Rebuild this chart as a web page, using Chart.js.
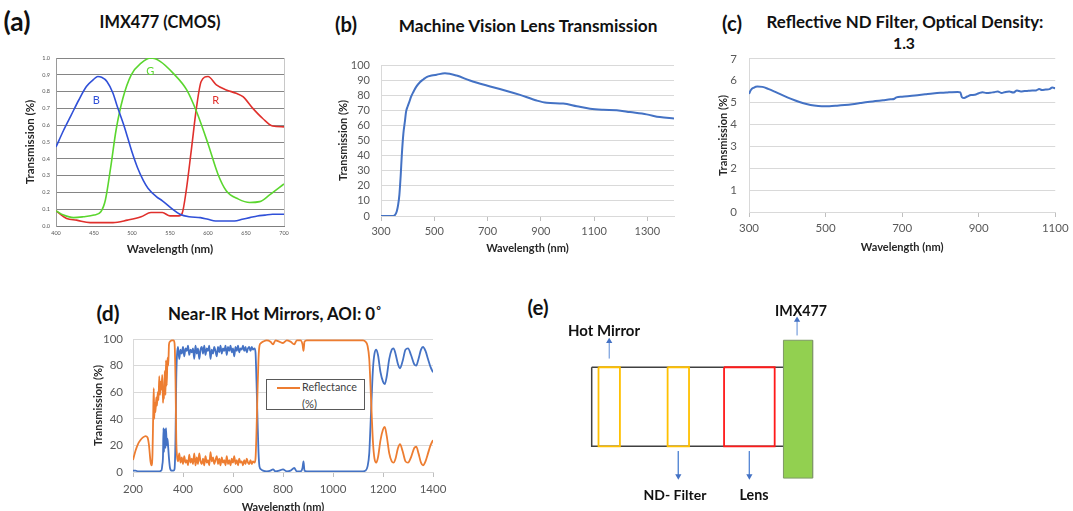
<!DOCTYPE html>
<html><head><meta charset="utf-8">
<script src="https://cdn.jsdelivr.net/npm/chart.js@4.4.1/dist/chart.umd.min.js"></script>
<style>
html,body{margin:0;padding:0;background:#fff;width:1073px;height:511px;overflow:hidden;font-family:Lato,'Open Sans',sans-serif;position:relative;}
canvas{position:absolute;}
.t{position:absolute;transform:translate(-50%,-50%);white-space:nowrap;font-weight:bold;color:#111;font-size:16px;line-height:1;}
.leg{position:absolute;left:266px;top:379px;width:97px;height:29px;border:1px solid #595959;background:#fff;}
.leg .ln{position:absolute;left:10px;top:7px;width:23px;height:2px;background:#ed7d31;}
.leg .tx{position:absolute;left:35px;font-size:12px;color:#404040;line-height:1;white-space:nowrap;}
</style></head><body>

<div class="t" data-w="27" style="left:17px;top:21px">(a)</div>
<div class="t" data-w="121" style="left:160px;top:22px">IMX477 (CMOS)</div>
<div class="t" data-w="22" style="left:346px;top:24px">(b)</div>
<div class="t" data-w="259" style="left:528px;top:26px">Machine Vision Lens Transmission</div>
<div class="t" data-w="20" style="left:732px;top:23px">(c)</div>
<div class="t" data-w="277" style="left:905px;top:22px">Reflective ND Filter, Optical Density:</div>
<div class="t" data-w="22" style="left:904px;top:43px">1.3</div>
<div class="t" data-w="23" style="left:108px;top:313px">(d)</div>
<div class="t" data-w="214" style="left:275px;top:314px">Near-IR Hot Mirrors, AOI: 0˚</div>
<div class="t" data-w="21" style="left:538px;top:307px">(e)</div>

<canvas id="ca" width="300" height="220" style="left:0px;top:40px"></canvas>
<canvas id="cb" width="400" height="220" style="left:300px;top:40px"></canvas>
<canvas id="cc" width="373" height="220" style="left:700px;top:40px"></canvas>
<canvas id="cd" width="400" height="200" style="left:60px;top:320px"></canvas>
<canvas id="ce" width="300" height="221" style="left:540px;top:290px"></canvas>

<div class="leg"><div class="ln"></div><div class="tx" data-w="55" style="top:2px">Reflectance</div><div class="tx" data-w="15" style="top:18px">(%)</div></div>

<div class="t" data-w="72" style="left:604px;top:330px;font-size:13px">Hot Mirror</div>
<div class="t" data-w="52" style="left:801px;top:311px;font-size:13px">IMX477</div>
<div class="t" data-w="63" style="left:675px;top:495px;font-size:13px">ND- Filter</div>
<div class="t" data-w="29" style="left:754px;top:495px;font-size:13px">Lens</div>

<script>
// ---------- DATA ----------
// (a) IMX477 spectral response
const aTicksX = [400,450,500,550,600,650,700];
const aTicksY = [0,0.1,0.2,0.3,0.4,0.5,0.6,0.7,0.8,0.9,1.0];
const aBlueWave = [400,410,420,430,440,450,455,460,467,475,480,490,500,507,515,521,532,540,552,563,575,590,600,610,620,635,645,655,665,675,685,700];
const aBlueVal  = [0.47,0.57,0.66,0.75,0.83,0.875,0.89,0.885,0.86,0.79,0.72,0.59,0.44,0.35,0.27,0.225,0.175,0.15,0.105,0.07,0.055,0.05,0.04,0.03,0.03,0.03,0.04,0.05,0.06,0.065,0.07,0.07];
const aGreenWave = [400,410,423,436,450,459,465,472,479,488,499,512,525,537,554,572,585,600,613,624,640,655,668,681,700];
const aGreenVal  = [0.09,0.065,0.05,0.055,0.065,0.085,0.155,0.35,0.57,0.76,0.9,0.97,1.0,0.98,0.91,0.81,0.68,0.49,0.31,0.21,0.16,0.14,0.145,0.185,0.25];
const aRedWave = [400,414,427,445,475,494,512,525,540,550,562,566,571,578,585,591,600,611,624,637,646,659,672,685,700];
const aRedVal  = [0.09,0.045,0.035,0.02,0.02,0.035,0.055,0.08,0.08,0.06,0.06,0.075,0.2,0.45,0.71,0.86,0.89,0.84,0.81,0.79,0.77,0.70,0.64,0.595,0.59];
const aLabelText = ['B','G','R'];
const aLabelWave = [453,524,610];
const aLabelVal  = [0.75,0.92,0.75];

// (b) Machine vision lens transmission
const bTicksX = [300,500,700,900,1100,1300];
const bTicksY = [0,10,20,30,40,50,60,70,80,90,100];
const bWave = [300,346,352,359,364,369,374,378,384,390,394,400,406,413,421,432,446,460,471,490,509,540,584,634,697,759,822,884,922,984,1035,1085,1135,1185,1235,1297,1347,1400];
const bVal  = [0,0,0.5,3,7,14,27,40,54.5,63,69,72.5,75.4,79,82,85.5,88.6,90.6,92,93,93.6,94.5,93,89.7,86.4,83.5,80.2,76.5,75,74.5,72.7,71,70.3,70,68.8,67.3,65.5,64.6];

// (c) Reflective ND filter OD 1.3
const cTicksX = [300,500,700,900,1100];
const cTicksY = [0,1,2,3,4,5,6,7];
const cWave = [300,305,312,322,335,350,370,390,410,430,450,470,490,510,530,550,570,590,610,630,650,670,680,685,700,720,740,760,780,800,815,830,845,852,856,862,870,880,890,900,910,920,930,940,950,960,970,980,990,1000,1010,1020,1030,1040,1050,1058,1065,1075,1085,1092,1100];
const cVal  = [5.40,5.58,5.68,5.74,5.72,5.63,5.48,5.32,5.17,5.04,4.94,4.87,4.84,4.84,4.86,4.89,4.93,4.98,5.03,5.07,5.11,5.15,5.18,5.24,5.27,5.30,5.34,5.38,5.42,5.45,5.46,5.48,5.49,5.47,5.25,5.21,5.28,5.35,5.36,5.43,5.48,5.44,5.45,5.48,5.51,5.44,5.49,5.51,5.46,5.55,5.51,5.53,5.54,5.55,5.56,5.62,5.58,5.60,5.62,5.69,5.66];

// (d) Near-IR hot mirror
const dTicksX = [200,400,600,800,1000,1200,1400];
const dTicksY = [0,20,40,60,80,100];
const dWave = [200,210,220,230,240,250,258,264,270,274,278,281,283,285,287,290,293,296,299,302,305,308,311,314,317,320,322,324,327,330,332,335,338,341,344,348,355,362,366,370,373,376,380,385,390,395,400,405,410,415,420,425,430,435,440,445,450,455,460,465,470,475,480,485,490,495,500,505,510,515,520,525,530,535,540,545,550,555,560,565,570,575,580,585,590,595,600,605,610,615,620,625,630,635,640,645,650,655,660,665,670,675,680,686,690,694,698,702,706,712,720,735,750,760,770,785,800,815,830,845,855,870,878,882,886,895,950,1000,1050,1100,1120,1130,1138,1145,1150,1155,1160,1166,1173,1180,1190,1200,1207,1215,1225,1235,1242,1250,1260,1268,1278,1290,1300,1312,1325,1333,1342,1352,1360,1370,1380,1390,1400];
const dReflect = [9,16,21,24,26,27,26,20,8,5,14,45,63,40,52,45,56,50,60,54,72,58,68,62,73,52,62,55,76,58,84,65,86,80,96,98,99,99,97,70,25,12,8,14,7,11,6,12,7,9,5,13,7,10,6,14,5,11,6,14,8,6,10,5,12,7,9,5,15,8,11,6,9,12,6,10,5,11,7,9,5,12,6,9,5,10,7,12,6,9,5,10,7,8,5,9,6,10,7,6,9,6,8,7,10,30,60,85,95,97,98,99,98,96,99,98,97,99,98,96,99,99,96,91,98,99,99,99,99,99,99,98,95,85,65,42,22,10,7,11,24,32,34,27,14,8,7,10,18,21,16,8,7,11,18,19,14,7,5,8,14,20,24];
const dTrans = [1,1,0.5,0.5,0.5,0.5,0.5,0.5,0.5,0.5,0.5,0.5,0.5,0.5,0.5,0.5,0.5,0.5,0.5,0.5,0.5,0.5,1,1,5,12,33,15,32,18,33,20,25,18,10,3,1,1,2,25,70,88,94,85,92,89,94,87,93,91,95,88,92,90,93,85,95,89,93,85,92,94,89,95,88,93,91,95,85,92,89,94,91,87,94,90,95,89,93,91,95,88,94,91,95,90,93,87,94,91,95,90,93,92,95,91,94,90,93,94,91,94,92,93,90,68,40,15,4,2,1,0.5,1,2,0.5,1,2,0.5,1,3,0.5,0.5,3,8,1,0.5,0.5,0.5,0.5,0.5,0.5,1,4,14,35,58,78,89,92,88,75,68,66,72,85,92,93,89,81,78,83,92,93,88,81,80,85,92,94,91,85,79,75];

// (e) optical train schematic (diagram units)
const partNames = ['Barrel','Hot Mirror','ND- Filter','Lens','IMX477'];
const partX0 = [49,56,127,185,246];
const partX1 = [247,78,149,237,276];
const partY0 = [76,76,76,76,48];
const partY1 = [158,158,158,158,191];
const arrowX    = [67,260,138,211];
const arrowFrom = [67,43,163,163];
const arrowTo   = [49,27,189,189];

// ---------- HELPERS ----------
Chart.defaults.font.family = "Lato, 'Open Sans', sans-serif";
Chart.defaults.color = '#595959';
Chart.defaults.animation = false;
Chart.defaults.events = [];
Chart.defaults.plugins.legend.display = false;
Chart.defaults.plugins.tooltip.enabled = false;

function xy(xs, ys){ return xs.map((x,i)=>({x:x, y:ys[i]})); }
function lineDs(xs, ys, color, w){
  return {data: xy(xs,ys), borderColor: color, backgroundColor: color, borderWidth: w, pointRadius: 0,
          showLine: true, fill: false, cubicInterpolationMode: 'monotone'};
}
function scalesFor(o){
  return {
    x: {type:'linear', min:o.xMin, max:o.xMax,
        afterBuildTicks: s => { s.ticks = o.xTicks.map(v=>({value:v})); },
        afterFit: s => { s.height = o.xH; },
        grid: {display:true, drawOnChartArea: !!o.xGridArea, drawTicks: o.xTickLen>0, tickLength: o.xTickLen,
               color: o.xGridColor, lineWidth: 1},
        border: {display:true, color:o.xBorder},
        ticks: {font:{size:o.tickSize}, color:o.tickColor, padding:o.xPad, maxRotation:0, autoSkip:false,
                callback: v => o.xFmt ? o.xFmt(v) : String(v)},
        title: {display:true, text:'Wavelength (nm)', color:'#262626', font:{size:o.titleSize, weight:'bold'},
                padding:{top:0, bottom:o.xTitlePad}}},
    y: {type:'linear', min:o.yMin, max:o.yMax,
        afterBuildTicks: s => { s.ticks = o.yTicks.map(v=>({value:v})); },
        afterFit: s => { s.width = o.yW; },
        grid: {display:true, drawTicks:false, color:o.yGridColor, lineWidth:1},
        border: {display:true, color:o.yBorder},
        ticks: {font:{size:o.tickSize}, color:o.tickColor, padding:o.yPad, autoSkip:false,
                callback: v => o.yFmt ? o.yFmt(v) : String(v)},
        title: {display:true, text:'Transmission (%)', color:'#262626', font:{size:o.titleSize, weight:'bold'},
                padding:{top:o.yTitlePad, bottom:0}}}
  };
}
function baseOpts(pad, scales, plugins){
  return {responsive:false, maintainAspectRatio:false, animation:false,
          layout:{padding:pad}, scales:scales, plugins: plugins||{}};
}

// (a)
const rgbLabels = {
  id:'rgbLabels',
  afterDatasetsDraw(chart){
    const ctx = chart.ctx, xs = chart.scales.x, ys = chart.scales.y;
    const cols = ['#3050d8','#5ad62e','#e0302c'];
    ctx.save(); ctx.font = "11px Lato, sans-serif"; ctx.textAlign='center'; ctx.textBaseline='middle';
    aLabelText.forEach((t,i)=>{ ctx.fillStyle = cols[i]; ctx.fillText(t, xs.getPixelForValue(aLabelWave[i]), ys.getPixelForValue(aLabelVal[i])); });
    ctx.restore();
  }
};
new Chart(document.getElementById('ca'), {
  type:'scatter',
  data:{datasets:[
    lineDs(aBlueWave, aBlueVal, '#3050d8', 1.6),
    lineDs(aGreenWave, aGreenVal, '#5ad62e', 1.6),
    lineDs(aRedWave, aRedVal, '#e0302c', 1.6)]},
  options: baseOpts({top:18,right:16,left:0,bottom:0},
    (()=>{ const s = scalesFor({xMin:400,xMax:700,xTicks:aTicksX,yMin:0,yMax:1,yTicks:aTicksY,xH:34,yW:56,
      xGridArea:true,xTickLen:0,xGridColor:'#000',xBorder:'#7f7f7f',yGridColor:'#858585',yBorder:'#9a9a9a',
      tickSize:5.5,tickColor:'#555',xPad:3.7,yPad:6,titleSize:11.5,xTitlePad:4.2,yTitlePad:23.1,
      yFmt:v=>v.toFixed(1)});
      s.x.grid.color = c => (c.tick && c.tick.value===700) ? '#c8c8c8' : 'rgba(0,0,0,0)';
      return s; })()),
  plugins:[rgbLabels]
});

// (b)
new Chart(document.getElementById('cb'), {
  type:'scatter',
  data:{datasets:[lineDs(bWave, bVal, '#4472c4', 2)]},
  options: baseOpts({top:25,right:26,left:0,bottom:0},
    scalesFor({xMin:300,xMax:1400,xTicks:bTicksX,yMin:0,yMax:100,yTicks:bTicksY,xH:44,yW:81,
      xTickLen:5,xGridColor:'#bfbfbf',xBorder:'#d9d9d9',yGridColor:'#d9d9d9',yBorder:'#d9d9d9',
      tickSize:11,tickColor:'#595959',xPad:3.4,yPad:11,titleSize:11,xTitlePad:5.4,yTitlePad:36.4}))
});

// (c)
new Chart(document.getElementById('cc'), {
  type:'scatter',
  data:{datasets:[lineDs(cWave, cVal, '#4472c4', 2)]},
  options: baseOpts({top:17,right:14,left:0,bottom:0},
    scalesFor({xMin:300,xMax:1100,xTicks:cTicksX,yMin:0,yMax:7,yTicks:cTicksY,xH:48,yW:49,
      xTickLen:5,xGridColor:'#bfbfbf',xBorder:'#d9d9d9',yGridColor:'#d9d9d9',yBorder:'#d9d9d9',
      tickSize:11.5,tickColor:'#595959',xPad:4.4,yPad:12,titleSize:11,xTitlePad:6.4,yTitlePad:16.4}))
});

// (d)
new Chart(document.getElementById('cd'), {
  type:'scatter',
  data:{datasets:[
    Object.assign(lineDs(dWave, dReflect, '#ed7d31', 1.8), {label:'Reflectance (%)'}),
    Object.assign(lineDs(dWave, dTrans, '#4472c4', 1.8), {label:'Transmission (%)'})]},
  options: baseOpts({top:19,right:27,left:0,bottom:0},
    scalesFor({xMin:200,xMax:1400,xTicks:dTicksX,yMin:0,yMax:100,yTicks:dTicksY,xH:48,yW:73,
      xTickLen:5,xGridColor:'#bfbfbf',xBorder:'#d9d9d9',yGridColor:'#d9d9d9',yBorder:'#d9d9d9',
      tickSize:11.5,tickColor:'#595959',xPad:5.2,yPad:10,titleSize:11,xTitlePad:6.4,yTitlePad:31.4}))
});

// (e) schematic
const partStroke = ['#404040','#ffc000','#ffc000','#ff1a1a','#7f9a66'];
const partFill   = [null,null,null,null,'#92d050'];
const partWidth  = [1.5,1.8,1.8,1.8,1];
const partOrder  = [5,3,3,3,2];
const eSets = partNames.map((n,i)=>{
  const xs = [partX0[i],partX1[i],partX1[i],partX0[i],partX0[i]];
  const ys = [partY0[i],partY0[i],partY1[i],partY1[i],partY0[i]];
  return {label:n, data:xy(xs,ys), showLine:true, tension:0, pointRadius:0, borderColor:partStroke[i],
          borderWidth:partWidth[i], borderJoinStyle:'miter', order:partOrder[i],
          fill: partFill[i] ? 'shape' : false, backgroundColor: partFill[i] || 'rgba(0,0,0,0)'};
});
arrowX.forEach((x,i)=>{
  const up = arrowTo[i] < arrowFrom[i];
  eSets.push({data:xy([x,x],[arrowFrom[i],arrowTo[i]]), showLine:true, tension:0, borderColor:'#5b8bd6',
    borderWidth:1, pointRadius:[0,3.6], pointStyle:'triangle', rotation: up?0:180,
    pointBackgroundColor:'#4472c4', pointBorderColor:'#4472c4', pointBorderWidth:0, order:1, fill:false});
});
new Chart(document.getElementById('ce'), {
  type:'scatter',
  data:{datasets:eSets},
  options:{responsive:false, animation:false, layout:{padding:0},
    scales:{x:{type:'linear',min:0,max:300,display:false}, y:{type:'linear',min:0,max:221,reverse:true,display:false}},
    plugins:{legend:{display:false}}}
});

// fit title text widths to the reference
document.querySelectorAll('[data-w]').forEach(el=>{
  const target = parseFloat(el.dataset.w);
  const fs = parseFloat(getComputedStyle(el).fontSize);
  const w = el.getBoundingClientRect().width;
  if (w > 0) el.style.fontSize = (fs * target / w).toFixed(2) + 'px';
});
</script>
</body></html>
